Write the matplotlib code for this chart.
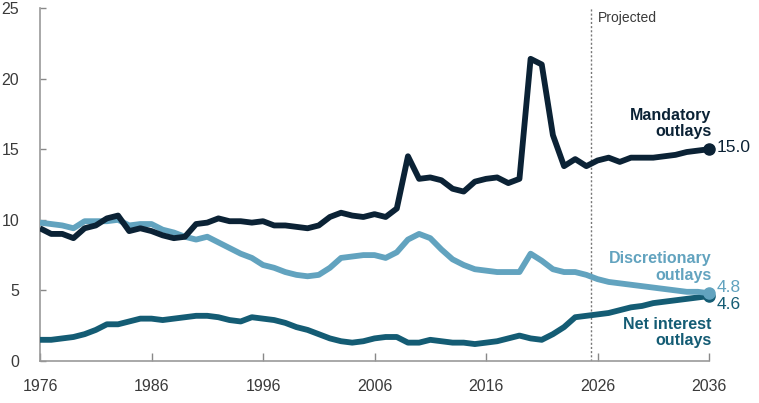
import matplotlib.pyplot as plt
import numpy as np

# fiscal years, history + projection
years = np.arange(1976, 2037)

mandatory = [9.4, 9.0, 9.0, 8.7, 9.4, 9.6, 10.1, 10.3, 9.2, 9.4,
             9.2, 8.9, 8.7, 8.8, 9.7, 9.8, 10.1, 9.9, 9.9, 9.8,
             9.9, 9.6, 9.6, 9.5, 9.4, 9.6, 10.2, 10.5, 10.3, 10.2,
             10.4, 10.2, 10.8, 14.5, 12.9, 13.0, 12.8, 12.2, 12.0, 12.7,
             12.9, 13.0, 12.6, 12.9, 21.4, 21.0, 16.0, 13.8, 14.3, 13.8,
             14.2, 14.4, 14.1, 14.4, 14.4, 14.4, 14.5, 14.6, 14.8, 14.9,
             15.0]

discretionary = [9.8, 9.7, 9.6, 9.4, 9.9, 9.9, 9.9, 10.0, 9.6, 9.7,
                 9.7, 9.3, 9.1, 8.8, 8.6, 8.8, 8.4, 8.0, 7.6, 7.3,
                 6.8, 6.6, 6.3, 6.1, 6.0, 6.1, 6.6, 7.3, 7.4, 7.5,
                 7.5, 7.3, 7.7, 8.6, 9.0, 8.7, 7.9, 7.2, 6.8, 6.5,
                 6.4, 6.3, 6.3, 6.3, 7.6, 7.1, 6.5, 6.3, 6.3, 6.1,
                 5.8, 5.6, 5.5, 5.4, 5.3, 5.2, 5.1, 5.0, 4.9, 4.9,
                 4.8]

net_interest = [1.5, 1.5, 1.6, 1.7, 1.9, 2.2, 2.6, 2.6, 2.8, 3.0,
                3.0, 2.9, 3.0, 3.1, 3.2, 3.2, 3.1, 2.9, 2.8, 3.1,
                3.0, 2.9, 2.7, 2.4, 2.2, 1.9, 1.6, 1.4, 1.3, 1.4,
                1.6, 1.7, 1.7, 1.3, 1.3, 1.5, 1.4, 1.3, 1.3, 1.2,
                1.3, 1.4, 1.6, 1.8, 1.6, 1.5, 1.9, 2.4, 3.1, 3.2,
                3.3, 3.4, 3.6, 3.8, 3.9, 4.1, 4.2, 4.3, 4.4, 4.5,
                4.6]

xticks = [1976, 1986, 1996, 2006, 2016, 2026, 2036]
yticks = [0, 5, 10, 15, 20, 25]
proj_start = 2025.4

c_mand = '#0b2235'
c_disc = '#62a3bf'
c_int = '#145c74'
grey = '#3a3a3a'

plt.rcParams['font.family'] = ['Liberation Sans', 'DejaVu Sans']

fig = plt.figure(figsize=(7.59, 4.03), dpi=100)
ax = fig.add_axes([40/759, 42/403, 669/759, 353/403])

ax.plot(years, net_interest, color=c_int, lw=4.2, zorder=3, solid_capstyle='butt')
ax.plot(years, discretionary, color=c_disc, lw=4.2, zorder=4, solid_capstyle='butt')
ax.plot(years, mandatory, color=c_mand, lw=4.2, zorder=5, solid_capstyle='butt')
ax.plot(years[-1], net_interest[-1], 'o', color=c_int, ms=8, zorder=3, clip_on=False)
ax.plot(years[-1], discretionary[-1], 'o', color=c_disc, ms=8, zorder=4, clip_on=False)
ax.plot(years[-1], mandatory[-1], 'o', color=c_mand, ms=8, zorder=5, clip_on=False)

ax.axvline(proj_start, color='#777777', lw=1, ls=(0, (1.5, 1.5)), zorder=1)
ax.text(proj_start + 0.6, 24.8, 'Projected', fontsize=10, color=grey, va='top', ha='left')

ax.set_xlim(1976, 2036)
ax.set_ylim(0, 25)
ax.set_xticks(xticks)
ax.set_yticks(yticks)
ax.tick_params(axis='x', direction='in', length=6, width=1, color='#888888',
               labelsize=11.5, labelcolor=grey, pad=13)
ax.tick_params(axis='y', direction='in', length=4, width=1, color='#888888',
               labelsize=11.5, labelcolor=grey, pad=15)
for s in ['top', 'right']:
    ax.spines[s].set_visible(False)
for s in ['left', 'bottom']:
    ax.spines[s].set_color('#999999')
    ax.spines[s].set_linewidth(1.2)

# series labels
ax.text(2036.2, 15.7, 'Mandatory\noutlays', color=c_mand, fontsize=11.5, fontweight='bold',
        ha='right', va='bottom', linespacing=1.1)
ax.text(2036.2, 5.55, 'Discretionary\noutlays', color=c_disc, fontsize=11.5, fontweight='bold',
        ha='right', va='bottom', linespacing=1.1)
ax.text(2036.2, 3.15, 'Net interest\noutlays', color=c_int, fontsize=11.5, fontweight='bold',
        ha='right', va='top', linespacing=1.1)

ax.text(2036.7, mandatory[-1] + 0.1, f'{mandatory[-1]:.1f}', color=c_mand, fontsize=12.5,
        ha='left', va='center', clip_on=False)
ax.text(2036.7, discretionary[-1] + 0.4, f'{discretionary[-1]:.1f}', color=c_disc, fontsize=12.5,
        ha='left', va='center', clip_on=False)
ax.text(2036.7, net_interest[-1] - 0.6, f'{net_interest[-1]:.1f}', color=c_int, fontsize=12.5,
        ha='left', va='center', clip_on=False)

fig.savefig('out.png', dpi=100)
